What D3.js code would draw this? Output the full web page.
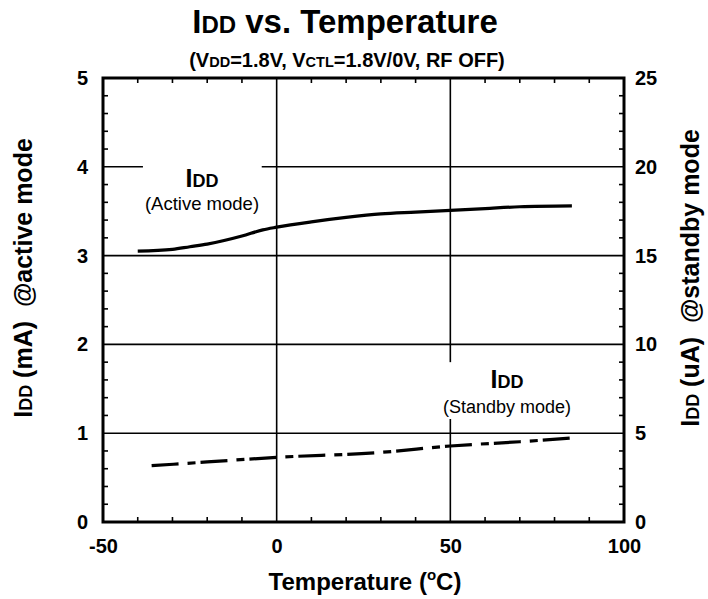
<!DOCTYPE html>
<meta charset="utf-8">
<script src="https://d3js.org/d3.v7.min.js"></script>
<style>
  body { margin: 0; background: #fff; }
  text { font-family: Arial, "Liberation Sans", sans-serif; fill: #000; white-space: pre; }
</style>
<body>
<svg id="chart" width="708" height="599"></svg>
<script>
// data
var temps   = [-40, -30, -25, -20, -10, -4, 0, 10, 20, 30, 40, 50, 60, 70, 85];
var active  = [3.05, 3.07, 3.10, 3.13, 3.22, 3.29, 3.32, 3.38, 3.43, 3.47, 3.49, 3.51, 3.53, 3.55, 3.56]; // mA
var sbTemps = [-36, -20, 0, 30, 50, 70, 85];
var standby = [3.17, 3.38, 3.64, 3.92, 4.28, 4.52, 4.73]; // uA
var xTicks = [-50, 0, 50, 100];
var yTicksL = [0, 1, 2, 3, 4, 5];
var yTicksR = [0, 5, 10, 15, 20, 25];

var margin = {top: 78, right: 84, bottom: 77, left: 103},
    width = 708 - margin.left - margin.right,
    height = 599 - margin.top - margin.bottom;

var svg = d3.select("#chart");
var g = svg.append("g").attr("transform", "translate(" + margin.left + "," + margin.top + ")");

var x = d3.scaleLinear().domain([-50, 100]).range([0, width]);
var yL = d3.scaleLinear().domain([0, 5]).range([height, 0]);
var yR = d3.scaleLinear().domain([0, 25]).range([height, 0]);

// grid lines at major ticks
g.append("g").attr("class", "grid")
  .selectAll("line").data([0, 50]).enter().append("line")
  .attr("x1", d => x(d)).attr("x2", d => x(d))
  .attr("y1", 0).attr("y2", height);
g.append("g").attr("class", "grid")
  .selectAll("line").data([1, 2, 3, 4]).enter().append("line")
  .attr("x1", 0).attr("x2", width)
  .attr("y1", d => yL(d)).attr("y2", d => yL(d));
g.selectAll(".grid line").attr("stroke", "#000").attr("stroke-width", 1.6);

// minor ticks (inward)
var minorX = d3.range(-40, 100, 10).filter(d => d % 50 !== 0);
var minorY = d3.range(0.2, 5, 0.2).filter(d => Math.abs(d - Math.round(d)) > 0.01);
var mt = g.append("g").attr("stroke", "#000").attr("stroke-width", 1.6);
minorX.forEach(function(d) {
  mt.append("line").attr("x1", x(d)).attr("x2", x(d)).attr("y1", height).attr("y2", height - 5);
  mt.append("line").attr("x1", x(d)).attr("x2", x(d)).attr("y1", 0).attr("y2", 5);
});
minorY.forEach(function(d) {
  mt.append("line").attr("x1", 0).attr("x2", 5).attr("y1", yL(d)).attr("y2", yL(d));
  mt.append("line").attr("x1", width).attr("x2", width - 5).attr("y1", yL(d)).attr("y2", yL(d));
});

// annotation boxes (white, cut the grid)
g.append("rect").attr("x", x(-38.5)).attr("y", yL(4.1)).attr("width", x(-4.3) - x(-38.5)).attr("height", 60).attr("fill", "#fff");
g.append("rect").attr("x", x(46)).attr("y", yL(1.8)).attr("width", x(86.5) - x(46)).attr("height", yL(1.16) - yL(1.8)).attr("fill", "#fff");

// lines
var lineA = d3.line().x(d => x(d[0])).y(d => yL(d[1])).curve(d3.curveMonotoneX);
var lineS = d3.line().x(d => x(d[0])).y(d => yR(d[1])).curve(d3.curveMonotoneX);
g.append("path").datum(d3.zip(temps, active))
  .attr("d", lineA).attr("fill", "none").attr("stroke", "#000").attr("stroke-width", 3.2);
g.append("path").datum(d3.zip(sbTemps, standby))
  .attr("d", lineS).attr("fill", "none").attr("stroke", "#000").attr("stroke-width", 3.2)
  .attr("stroke-dasharray", "27,9,8,5");

// frame
g.append("rect").attr("width", width).attr("height", height)
  .attr("fill", "none").attr("stroke", "#000").attr("stroke-width", 3);

// tick labels
var fmt = d => String(d);
function styleTicks(a) {
  a.select(".domain").remove();
  a.selectAll("text").style("font-size", "20px").style("font-weight", "bold")
    .style("font-family", "Arial, 'Liberation Sans', sans-serif").style("fill", "#000");
}
g.append("g").attr("transform", "translate(0," + height + ")")
  .call(d3.axisBottom(x).tickValues(xTicks).tickFormat(fmt).tickSize(0).tickPadding(17))
  .call(styleTicks);
g.append("g")
  .call(d3.axisLeft(yL).tickValues(yTicksL).tickFormat(fmt).tickSize(0).tickPadding(15))
  .call(styleTicks);
g.append("g").attr("transform", "translate(" + width + ",0)")
  .call(d3.axisRight(yR).tickValues(yTicksR).tickFormat(fmt).tickSize(0).tickPadding(11))
  .call(styleTicks);

// helper: text with small-size subscript letters
function subText(sel, parts, big, small) {
  parts.forEach(function(p) {
    sel.append("tspan").text(p[0]).style("font-size", (p[1] ? small : big) + "px");
  });
  return sel;
}

// titles
subText(svg.append("text").attr("x", 345).attr("y", 33).attr("text-anchor", "middle").attr("font-weight", "bold"),
  [["I", 0], ["DD", 1], [" vs. Temperature", 0]], 33, 24);
subText(svg.append("text").attr("x", 347).attr("y", 67).attr("text-anchor", "middle").attr("font-weight", "bold"),
  [["(V", 0], ["DD", 1], ["=1.8V, V", 0], ["CTL", 1], ["=1.8V/0V, RF OFF)", 0]], 20, 14.5);

var xt = svg.append("text").attr("x", 365).attr("y", 590).attr("text-anchor", "middle")
  .attr("font-weight", "bold").style("font-size", "24px");
xt.append("tspan").text("Temperature (");
xt.append("tspan").text("o").style("font-size", "15px").attr("dy", -10);
xt.append("tspan").text("C)").attr("dy", 10);

subText(svg.append("text").attr("transform", "translate(32,278) rotate(-90)").attr("text-anchor", "middle").attr("font-weight", "bold"),
  [["I", 0], ["DD", 1], [" (mA)  @active mode", 0]], 25, 18);
subText(svg.append("text").attr("transform", "translate(699,278) rotate(-90)").attr("text-anchor", "middle").attr("font-weight", "bold"),
  [["I", 0], ["DD", 1], [" (uA)  @standby mode", 0]], 25, 18);

// annotations
subText(g.append("text").attr("x", x(-21.5)).attr("y", yL(3.77)).attr("text-anchor", "middle").attr("font-weight", "bold"),
  [["I", 0], ["DD", 1]], 25, 18);
g.append("text").attr("x", x(-21.5)).attr("y", yL(3.51)).attr("text-anchor", "middle").style("font-size", "18.5px").text("(Active mode)");
subText(g.append("text").attr("x", x(66.3)).attr("y", yL(1.51)).attr("text-anchor", "middle").attr("font-weight", "bold"),
  [["I", 0], ["DD", 1]], 25, 18);
g.append("text").attr("x", x(66.3)).attr("y", yL(1.23)).attr("text-anchor", "middle").style("font-size", "18px").text("(Standby mode)");
</script>
</body>
